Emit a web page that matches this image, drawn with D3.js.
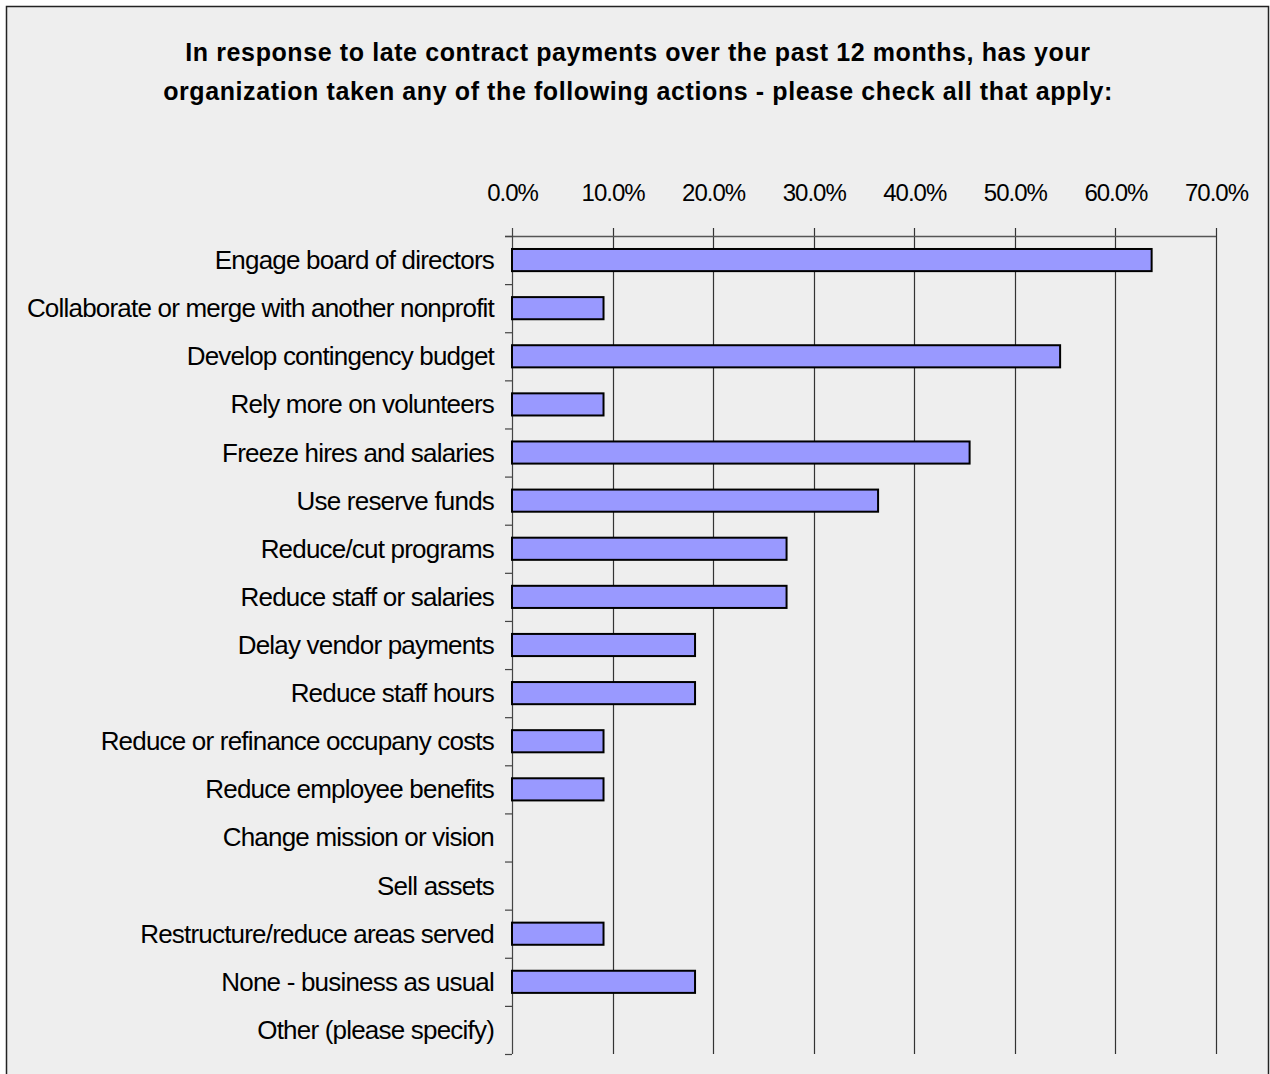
<!DOCTYPE html>
<html><head><meta charset="utf-8">
<script src="https://cdn.jsdelivr.net/npm/d3@7"></script>
<style>
html,body{margin:0;padding:0;background:#fff;}
svg{display:block;}
</style></head>
<body>
<script>
const titleLines = [
  "In response to late contract payments over the past 12 months, has your",
  "organization taken any of the following actions - please check all that apply:"
];
const categories = [
  "Engage board of directors",
  "Collaborate or merge with another nonprofit",
  "Develop contingency budget",
  "Rely more on volunteers",
  "Freeze hires and salaries",
  "Use reserve funds",
  "Reduce/cut programs",
  "Reduce staff or salaries",
  "Delay vendor payments",
  "Reduce staff hours",
  "Reduce or refinance occupany costs",
  "Reduce employee benefits",
  "Change mission or vision",
  "Sell assets",
  "Restructure/reduce areas served",
  "None - business as usual",
  "Other (please specify)"
];
const values = [0.636, 0.091, 0.545, 0.091, 0.455, 0.364, 0.273, 0.273, 0.182, 0.182, 0.091, 0.091, 0, 0, 0.091, 0.182, 0];
const tickValues = [0, 0.1, 0.2, 0.3, 0.4, 0.5, 0.6, 0.7];

const W = 1270, H = 1074;
const svg = d3.select("body").append("svg").attr("width", W).attr("height", H);
svg.append("rect").attr("x", 0).attr("y", 0).attr("width", W).attr("height", H).attr("fill", "#ffffff");
svg.append("rect").attr("x", 6.5).attr("y", 6.5).attr("width", 1262).attr("height", 1080)
  .attr("fill", "#eeeeee").attr("stroke", "#222").attr("stroke-width", 1.5);

const font = "'Liberation Sans Narrow','Arial Narrow','Liberation Sans',Arial,sans-serif";

svg.append("g").selectAll("text").data(titleLines).join("text")
  .attr("x", 638).attr("y", (d, i) => 61 + i * 39)
  .attr("text-anchor", "middle")
  .attr("font-family", font).attr("font-weight", "bold").attr("font-size", 25)
  .attr("letter-spacing", 0.6)
  .attr("fill", "#000").text(d => d);

const x = d3.scaleLinear().domain([0, 0.7]).range([512, 1216]);
const y = d3.scaleBand().domain(categories).range([236, 1054]).paddingInner(0.54).paddingOuter(0.27);
const yTicks = d3.scaleBand().domain(categories).range([236, 1054]);

// gridlines
svg.append("g").selectAll("line").data(tickValues.slice(1)).join("line")
  .attr("x1", d => Math.round(x(d)) + 0.5).attr("x2", d => Math.round(x(d)) + 0.5)
  .attr("y1", 228).attr("y2", 1054)
  .attr("stroke", "#333").attr("stroke-width", 1.2);

// top axis
const xAxis = d3.axisTop(x).tickValues(tickValues).tickFormat(d3.format(".1%")).tickSize(0).tickPadding(0);
const gx = svg.append("g").attr("transform", "translate(0,236)").call(xAxis);
gx.select(".domain").remove();
gx.selectAll("text").attr("font-family", font).attr("font-size", 24).attr("letter-spacing", -1)
  .attr("fill", "#000").attr("y", -35);
svg.append("line").attr("x1", 505).attr("x2", 1216).attr("y1", 236.5).attr("y2", 236.5)
  .attr("stroke", "#555").attr("stroke-width", 1.6);

// left axis
svg.append("line").attr("x1", 512.5).attr("x2", 512.5).attr("y1", 228).attr("y2", 1054)
  .attr("stroke", "#444").attr("stroke-width", 1.2);
svg.append("g").selectAll("line").data(categories.concat(["__end"])).join("line")
  .attr("x1", 505).attr("x2", 512)
  .attr("y1", (d, i) => 236 + i * yTicks.step() + 0.5).attr("y2", (d, i) => 236 + i * yTicks.step() + 0.5)
  .attr("stroke", "#444").attr("stroke-width", 1.2);

// labels
svg.append("g").selectAll("text").data(categories).join("text")
  .attr("x", 494).attr("y", d => yTicks(d) + yTicks.bandwidth() / 2 + 9)
  .attr("text-anchor", "end")
  .attr("font-family", font).attr("font-size", 26).attr("letter-spacing", -0.8).attr("fill", "#000")
  .text(d => d);

// bars
svg.append("g").selectAll("rect").data(values.map((v, i) => ({v, c: categories[i]})).filter(d => d.v > 0)).join("rect")
  .attr("x", x(0)).attr("y", d => y(d.c))
  .attr("width", d => x(d.v) - x(0)).attr("height", y.bandwidth())
  .attr("fill", "#9999ff").attr("stroke", "#000").attr("stroke-width", 2);
</script>
</body></html>
